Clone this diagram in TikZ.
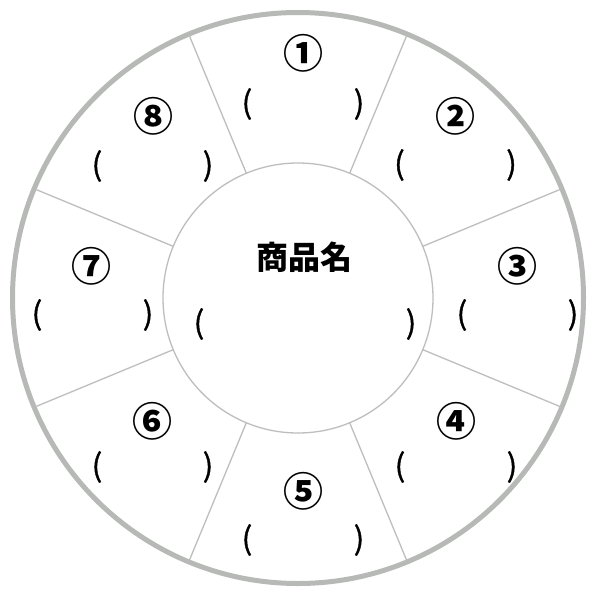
\documentclass[tikz,border=0pt]{standalone}
\usepackage{fontspec}
\usetikzlibrary{calc}
\newfontfamily\cjk{Noto Sans CJK JP}
\newfontfamily\cjkpar[FakeBold=1.2]{Noto Sans CJK JP}
\definecolor{ringgray}{RGB}{183,185,183}
\definecolor{linegray}{RGB}{190,190,190}
\tikzset{
  ring/.style={draw=ringgray, line width=5pt},
  inner/.style={draw=linegray, line width=1.3pt},
  divider/.style={draw=linegray, line width=1.3pt},
  num/.style={font=\cjk\bfseries\fontsize{40}{40}\selectfont, inner sep=0pt, anchor=center},
  par/.style={font=\cjkpar\fontsize{31}{31}\selectfont, inner sep=0pt, anchor=center},
  title/.style={font=\cjk\bfseries\fontsize{32}{32}\selectfont, inner sep=0pt, anchor=center}
}
\begin{document}
\begin{tikzpicture}[x=1pt,y=-1pt]
\useasboundingbox (0,0) rectangle (597,597);
\fill[white] (0,0) rectangle (597,597);
\coordinate (c) at (298,298);
\draw[ring] (c) circle[radius=285.5pt];
\draw[inner] (c) circle[radius=135pt];
\foreach \k in {0,...,7}{
  \coordinate (i\k) at ($(c)+({22.5+45*\k}:135pt)$);
  \coordinate (o\k) at ($(c)+({22.5+45*\k}:284pt)$);
  \draw[divider] (i\k) -- (o\k);
}
% sector labels
\node[num] (n1) at (303,53) {①};
\node[par] (l1) at (247,104) {(};
\node[par] (r1) at (359,104) {)};
\node[num] (n2) at (455,116) {②};
\node[par] (l2) at (399.5,165) {(};
\node[par] (r2) at (511.5,165) {)};
\node[num] (n3) at (517,266) {③};
\node[par] (l3) at (462,315) {(};
\node[par] (r3) at (573,315) {)};
\node[num] (n4) at (456,421) {④};
\node[par] (l4) at (400,467) {(};
\node[par] (r4) at (512,467) {)};
\node[num] (n5) at (303,491) {⑤};
\node[par] (l5) at (247,540) {(};
\node[par] (r5) at (359,540) {)};
\node[num] (n6) at (152,421) {⑥};
\node[par] (l6) at (97,467) {(};
\node[par] (r6) at (208,467) {)};
\node[num] (n7) at (91,266) {⑦};
\node[par] (l7) at (37,315) {(};
\node[par] (r7) at (148,315) {)};
\node[num] (n8) at (153,116) {⑧};
\node[par] (l8) at (97,166) {(};
\node[par] (r8) at (208,166) {)};
% centre
\node[title] (t) at (304,257) {商品名};
\node[par] (lc) at (199,324) {(};
\node[par] (rc) at (411,324) {)};
\end{tikzpicture}
\end{document}
